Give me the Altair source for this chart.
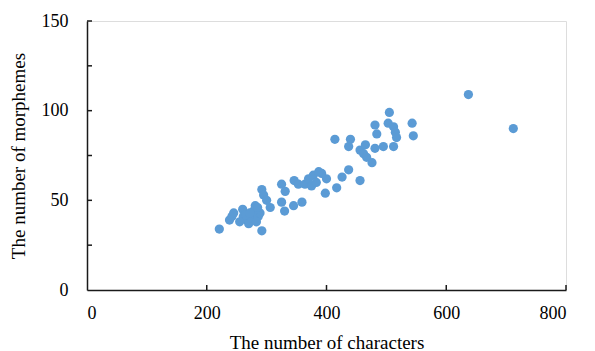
import altair as alt
import pandas as pd

characters = [221, 292, 238, 242, 245, 260, 261, 267, 270, 275, 281, 286, 289, 292, 295,
              300, 306, 325, 331, 325, 330, 345, 359, 346, 353, 364, 378, 392, 400, 398,
              265, 278, 283, 255, 272, 285,
              414, 440, 437, 456, 465, 462, 467, 476, 481, 481, 484, 495, 503, 512, 515,
              517, 512, 543, 545, 437, 426, 456, 417, 370, 375, 383, 387, 505, 637, 712]
morphemes = [34, 33, 39, 41, 43, 45, 41, 39, 37, 40, 47, 41, 43, 56, 53,
             50, 46, 59, 55, 49, 44, 47, 49, 61, 59, 59, 64, 65, 62, 54,
             42, 44, 38, 38, 43, 46,
             84, 84, 80, 78, 81, 76, 74, 71, 79, 92, 87, 80, 93, 91, 88,
             85, 80, 93, 86, 67, 63, 61, 57, 62, 58, 60, 66, 99, 109, 90]

x_tick_values = [200, 400, 600, 800]
y_tick_values = [25, 50, 75, 100, 125, 150]
y_label_values = [0, 50, 100, 150]
x_label_values = [0, 200, 400, 600, 800]

df = pd.DataFrame({"chars": characters, "morph": morphemes})
xt = pd.DataFrame({"v": x_tick_values})
yt = pd.DataFrame({"v": y_tick_values})

FONT = "Liberation Serif"
W, H = 479, 269

xscale = alt.Scale(domain=[0, 800], nice=False, zero=True)
yscale = alt.Scale(domain=[0, 150], nice=False, zero=True)

points = alt.Chart(df).mark_circle(size=85, color="#5B9BD5", opacity=1).encode(
    x=alt.X("chars:Q", scale=xscale,
            axis=alt.Axis(title="The number of characters", values=x_label_values,
                          ticks=False, tickSize=0, grid=False, labelPadding=14,
                          labelFont=FONT, labelFontSize=18, labelColor="#000000",
                          titleFont=FONT, titleFontSize=19, titleFontWeight="normal",
                          titleColor="#000000", titlePadding=11,
                          domainColor="#1a1a1a", domainWidth=1.5)),
    y=alt.Y("morph:Q", scale=yscale,
            axis=alt.Axis(title="The number of morphemes", values=y_label_values,
                          ticks=False, tickSize=0, grid=False, labelPadding=19,
                          labelFont=FONT, labelFontSize=18, labelColor="#000000",
                          titleFont=FONT, titleFontSize=19, titleFontWeight="normal",
                          titleColor="#000000", titlePadding=13,
                          domainColor="#1a1a1a", domainWidth=1.5)),
)

xticks = alt.Chart(xt).mark_rule(color="#1a1a1a", strokeWidth=1.5).encode(
    x=alt.X("v:Q", scale=xscale), y=alt.value(H), y2=alt.value(H - 5)
)
yticks = alt.Chart(yt).mark_rule(color="#1a1a1a", strokeWidth=1.5).encode(
    y=alt.Y("v:Q", scale=yscale), x=alt.value(0), x2=alt.value(5)
)

chart = alt.layer(points, xticks, yticks).properties(
    width=W, height=H,
    autosize=alt.AutoSizeParams(type="none"),
    padding={"left": 87, "top": 21, "right": 29, "bottom": 61},
).configure_view(stroke=None).configure(background="#ffffff")

chart.save("out.html", embed_options={"renderer": "svg", "actions": False})
